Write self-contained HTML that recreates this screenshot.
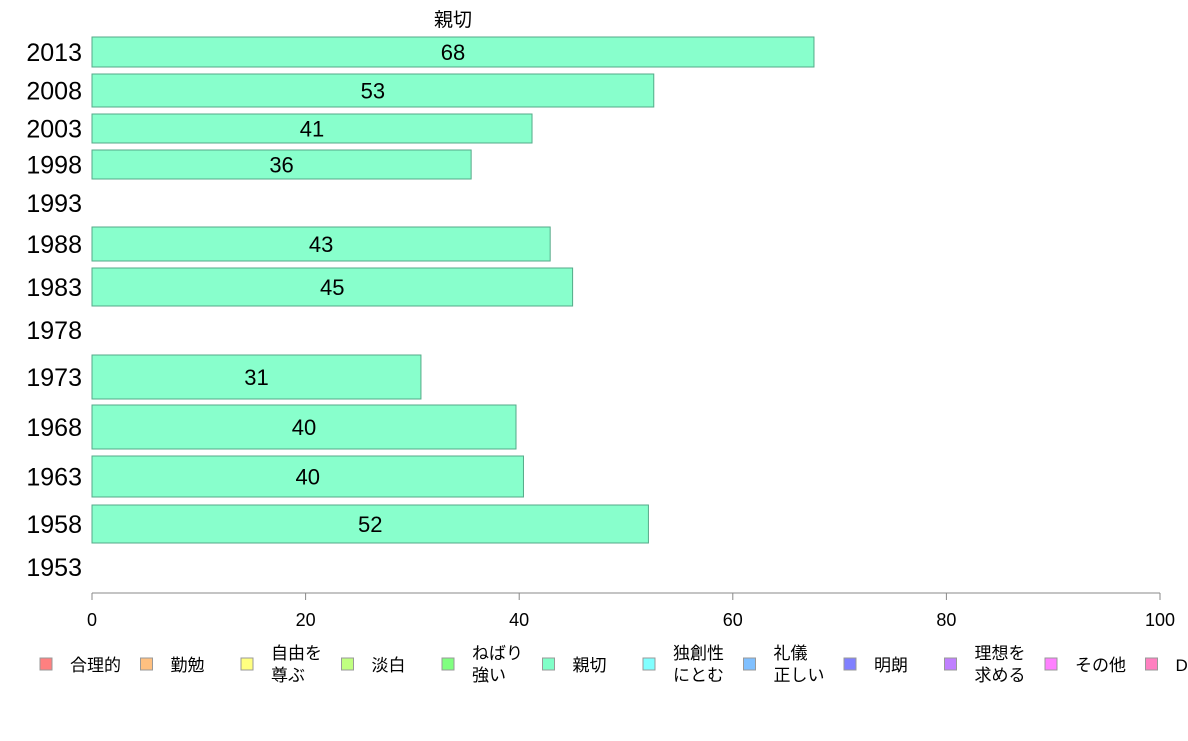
<!DOCTYPE html>
<html><head><meta charset="utf-8"><style>
body{margin:0;background:#fff;font-family:"Liberation Sans","Noto Sans CJK JP",sans-serif;}
svg text{font-family:"Liberation Sans","Noto Sans CJK JP",sans-serif;}
</style></head><body>
<svg id="c" width="1188" height="736" xmlns="http://www.w3.org/2000/svg"></svg>
<script>
const years=["2013","2008","2003","1998","1993","1988","1983","1978","1973","1968","1963","1958","1953"];
const values=[67.6,52.6,41.2,35.5,null,42.9,45.0,null,30.8,39.7,40.4,52.1,null];
const xTicks=[0,20,40,60,80,100];
const legendLabels=[["合理的"],["勤勉"],["自由を","尊ぶ"],["淡白"],["ねばり","強い"],["親切"],["独創性","にとむ"],["礼儀","正しい"],["明朗"],["理想を","求める"],["その他"],["D"]];
const legendColors=["#ff8080","#ffc080","#ffff80","#c0ff80","#80ff80","#80ffc8","#80ffff","#80c0ff","#8080ff","#c080ff","#ff80ff","#ff80c0"];
// layout: row band top/bottom (pixels)
const bandTop=[37,74,114,150,188,227,268,315,355,405,456,505,552];
const bandBot=[67,107,143,179,218,261,306,345,399,449,497,543,582];
const svg=document.getElementById('c');
const NS="http://www.w3.org/2000/svg";
function mk(t,a,txt){const e=document.createElementNS(NS,t);for(const k in a)e.setAttribute(k,a[k]);if(txt!=null)e.textContent=txt;svg.appendChild(e);return e;}
const x0=92,x1=1160;
const xs=v=>x0+(x1-x0)*v/100;
let t=mk('text',{x:453,y:26,'font-size':19,'text-anchor':'middle'},'親切');


years.forEach((y,i)=>{
  const cy=(bandTop[i]+bandBot[i])/2;
  const lb=mk('text',{x:82,y:cy+9,'font-size':25,'text-anchor':'end'},y);
  
  
  const v=values[i];
  if(v!=null){
    const r=mk('rect',{x:x0,y:bandTop[i],width:xs(v)-x0,height:bandBot[i]-bandTop[i],fill:'#88ffcc',stroke:'#55aa88','stroke-width':1});
    
    
    const vl=mk('text',{x:(x0+xs(v))/2,y:cy+8,'font-size':22,'text-anchor':'middle'},String(Math.round(v)));
    
    
  }
});
const ax=mk('line',{x1:x0,y1:593,x2:x1,y2:593,stroke:'#888','stroke-width':1});


xTicks.forEach(v=>{
  const tk=mk('line',{x1:xs(v),y1:593,x2:xs(v),y2:600,stroke:'#888'});
  
  
  const tl=mk('text',{x:xs(v),y:626,'font-size':18,'text-anchor':'middle'},String(v));
  
  
});
legendLabels.forEach((l,i)=>{
  const lx=40+i*100.5;
  const sw=mk('rect',{x:lx,y:658,width:12,height:12,fill:legendColors[i],stroke:'#999','stroke-width':1});
  
  
  const tx=mk('text',{x:lx+30,y:l.length==1?671:659,'font-size':17},null);
  
  
  l.forEach((s,j)=>{const ts=document.createElementNS(NS,'tspan');ts.setAttribute('x',lx+30);ts.setAttribute('dy',j?22:0);ts.textContent=s;tx.appendChild(ts);});
});
</script>
</body></html>
